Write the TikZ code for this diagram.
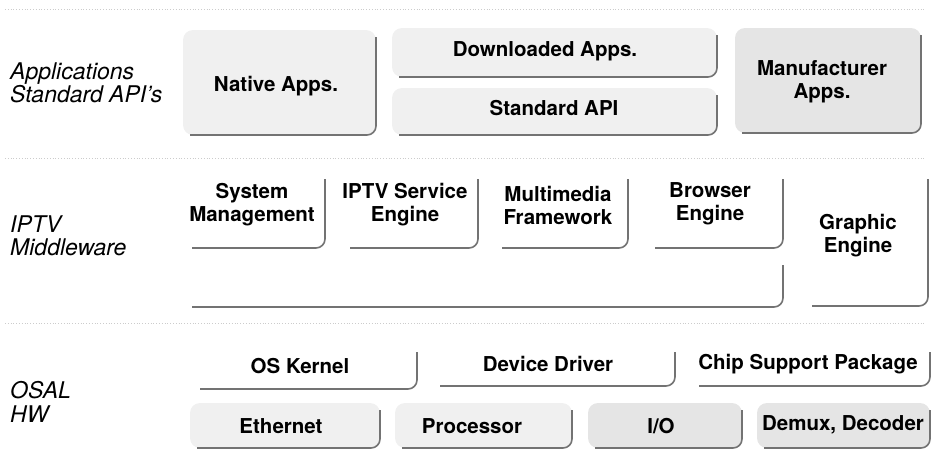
\documentclass[tikz,border=0pt]{standalone}
\usepackage{fontspec}
\setmainfont{TeX Gyre Heros}
\tikzset{
  box/.style={rectangle, inner sep=0pt, outer sep=0pt, rounded corners=10pt, anchor=north west},
  plain/.style={box, fill=white},
  dots/.style={box, fill=black!6},
  dense/.style={box, fill=black!10},
  edge/.style={draw=black!55, line width=1.6pt, rounded corners=9pt},
  lbl/.style={font=\fontsize{20.5}{23}\selectfont\bfseries, align=center, inner sep=0pt},
  side/.style={font=\fontsize{23}{23.5}\selectfont\itshape, align=left, anchor=west, inner sep=0pt},
  sepline/.style={draw=black!20, dotted, line width=0.8pt}
}
\newcommand{\bx}[6]{%
  \node[#6, minimum width={#4pt-#2pt}, minimum height={#5pt-#3pt}] (#1) at (#2,#3) {};
  \draw[edge] ([yshift=-7pt]#1.north east) -- (#1.south east) -- ([xshift=7pt]#1.south west);}
\begin{document}
\begin{tikzpicture}[x=1pt,y=-1pt]
\useasboundingbox (0,0) rectangle (931,455);
% faint separators
\coordinate (s1a) at (5,9);   \coordinate (s1b) at (926,9);
\coordinate (s2a) at (5,158); \coordinate (s2b) at (926,158);
\coordinate (s3a) at (5,323); \coordinate (s3b) at (926,323);
\draw[sepline] (s1a) -- (s1b);
\draw[sepline] (s2a) -- (s2b);
\draw[sepline] (s3a) -- (s3b);

% side labels
\node[side] (lapps) at (10,83) {Applications\\Standard API’s};
\node[side] (lmw) at (10,236) {IPTV\\Middleware};
\node[side] (losal) at (10,402) {OSAL\\HW};

% applications layer
\bx{native}{183}{30}{376}{135}{dots}
\bx{down}{392}{28}{717}{77}{dots}
\bx{std}{392}{88}{717}{135}{dots}
\bx{manuf}{735}{28}{921}{133}{dense}
\node[lbl] (native-t) at (276,86) {Native Apps.};
\node[lbl] (down-t) at (545,51) {Downloaded Apps.};
\node[lbl] (std-t) at (554,108) {Standard API};
\node[lbl] (manuf-t) at (822,82) {Manufacturer\\Apps.};

% middleware layer
\bx{base}{185}{258}{783}{307}{plain}
\bx{sys}{185}{172}{325}{248}{plain}
\bx{iptv}{343}{172}{478}{248}{plain}
\bx{mmf}{495}{172}{628}{248}{plain}
\bx{brow}{648}{172}{783}{248}{plain}
\bx{graph}{805}{172}{928}{306}{plain}
\node[lbl] (sys-t) at (252,205) {System\\Management};
\node[lbl] (iptv-t) at (405,205) {IPTV Service\\Engine};
\node[lbl] (mmf-t) at (558,205) {Multimedia\\Framework};
\node[lbl] (brow-t) at (710,204) {Browser\\Engine};
\node[lbl] (graph-t) at (858,236) {Graphic\\Engine};

% OSAL layer
\bx{os}{193}{345}{417}{389}{plain}
\bx{dd}{433}{345}{675}{386}{plain}
\bx{csp}{692}{345}{930}{386}{plain}
\node[lbl] (os-t) at (300,366) {OS Kernel};
\node[lbl] (dd-t) at (548,364) {Device Driver};
\node[lbl] (csp-t) at (808,364) {Chip Support Package};

% HW layer
\bx{eth}{190}{403}{380}{448}{dots}
\bx{proc}{395}{403}{572}{448}{dots}
\bx{io}{588}{403}{742}{448}{dense}
\bx{demux}{757}{403}{930}{448}{dense}
\node[lbl] (eth-t) at (281,426) {Ethernet};
\node[lbl] (proc-t) at (472,426) {Processor};
\node[lbl] (io-t) at (661,426) {I/O};
\node[lbl] (demux-t) at (843,425) {Demux, Decoder};
\end{tikzpicture}
\end{document}
